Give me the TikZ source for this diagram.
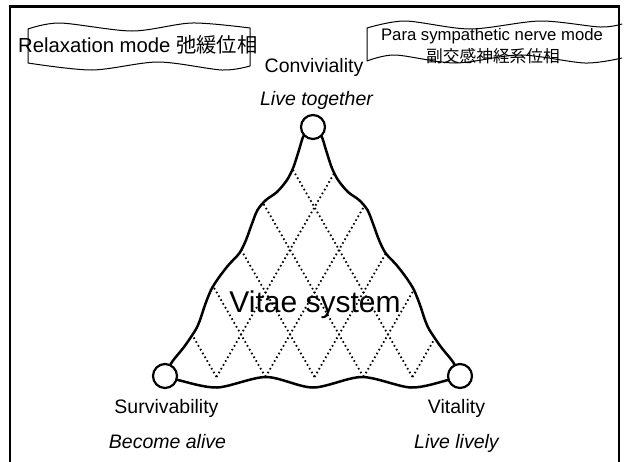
\documentclass[tikz,border=0pt]{standalone}
\usepackage{fontspec}
\setmainfont{Liberation Sans}
\newfontfamily\cjk{Noto Sans CJK JP}
\begin{document}
\begin{tikzpicture}[x=1pt,y=-1pt,
  lbl/.style={font=\fontsize{19.5}{22}\selectfont, anchor=base, inner sep=0pt},
  ital/.style={font=\fontsize{19.5}{22}\selectfont\itshape, anchor=base, inner sep=0pt},
  vertex/.style={circle, draw, line width=2.2pt, fill=white, minimum size=24pt, inner sep=0pt},
  rim/.style={line width=2.5pt, line join=round},
  lattice/.style={line width=1.8pt, dash pattern=on 1.6pt off 2.8pt},
  tapebox/.style={line width=1pt, line join=round},
  frame/.style={line width=2.2pt},
]
\useasboundingbox (0,0) rectangle (626,461);
\draw[frame] (10,475) -- (10,6.5) -- (619,6.5) -- (619,475);

% corner positions
\coordinate (ctop) at (313,127);
\coordinate (cbl) at (165,376);
\coordinate (cbr) at (460,376);

% lattice clipped to rim
\begin{scope}
\clip plot[smooth] coordinates {(ctop) (304,135) (299,150) (293.5,167) (287,180) (277,192) (266,200) (257.5,210) (251.5,225) (246,240) (239.5,253) (228.5,265) (218.5,278) (211,290) (205,305) (200,320) (195.5,330) (184,347) (172,362) (cbl)}
  -- plot[smooth] coordinates {(cbl) (178,380) (217,387.5) (266,377) (313,387.5) (362,377) (411,387.5) (448,380) (cbr)}
  -- plot[smooth] coordinates {(cbr) (453,362) (441,347) (429.5,330) (425,320) (420,305) (414,290) (406.5,278) (396.5,265) (385.5,253) (379,240) (373.5,225) (367.5,210) (359,200) (348,192) (338,180) (331.5,167) (326,150) (321,135) (ctop)} -- cycle;
\foreach \xo in {216.5,265.5,314.5,363.5,412.5}{
  \draw[lattice] (\xo,377) -- ++(-200,-346.4);
  \draw[lattice] (\xo,377) -- ++(200,-346.4);
}
\end{scope}

% rim
\draw[rim] plot[smooth] coordinates {(ctop) (304,135) (299,150) (293.5,167) (287,180) (277,192) (266,200) (257.5,210) (251.5,225) (246,240) (239.5,253) (228.5,265) (218.5,278) (211,290) (205,305) (200,320) (195.5,330) (184,347) (172,362) (cbl)};
\draw[rim] plot[smooth] coordinates {(cbl) (178,380) (217,387.5) (266,377) (313,387.5) (362,377) (411,387.5) (448,380) (cbr)};
\draw[rim] plot[smooth] coordinates {(cbr) (453,362) (441,347) (429.5,330) (425,320) (420,305) (414,290) (406.5,278) (396.5,265) (385.5,253) (379,240) (373.5,225) (367.5,210) (359,200) (348,192) (338,180) (331.5,167) (326,150) (321,135) (ctop)};

% vertices
\node[vertex] (top) at (ctop) {};
\node[vertex] (bl) at (cbl) {};
\node[vertex] (br) at (cbr) {};

% labels
\node[lbl] (conv) at (314,72) {Conviviality};
\node[ital] (livet) at (316.5,105) {Live together};
\node[lbl] (surv) at (166.5,413) {Survivability};
\node[ital] (become) at (167.5,448) {Become alive};
\node[lbl] (vital) at (456.5,413) {Vitality};
\node[ital] (lively) at (456.5,448) {Live lively};
\node[font=\fontsize{30}{34}\selectfont, anchor=base, inner sep=0pt] (vitae) at (315,312) {Vitae system};

% left tape box
\draw[tapebox] plot[smooth] coordinates {(28,29) (60,23) (132,31) (192,23) (250,28)} -- (250,66)
  -- plot[smooth] coordinates {(250,66) (222,70) (158,62) (92,70) (28,63)} -- cycle;
\node[font=\fontsize{20.3}{24}\selectfont, anchor=base west, inner sep=0pt] (relax) at (18,52) {Relaxation mode {\cjk 弛緩位相}};

% right tape box
\draw[tapebox] plot[smooth] coordinates {(622,24) (600,27) (540,21) (470,29) (405,21) (367,28)} -- (367,61)
  -- plot[smooth] coordinates {(367,61) (395,55) (455,63) (520,55) (585,63) (622,58)};
\node[font=\fontsize{16.7}{20}\selectfont, anchor=base, inner sep=0pt] (para) at (492,40) {Para sympathetic nerve mode};
\node[font=\fontsize{16.7}{20}\selectfont\cjk, anchor=base, inner sep=0pt] (parajp) at (493,62) {副交感神経系位相};
\end{tikzpicture}
\end{document}
